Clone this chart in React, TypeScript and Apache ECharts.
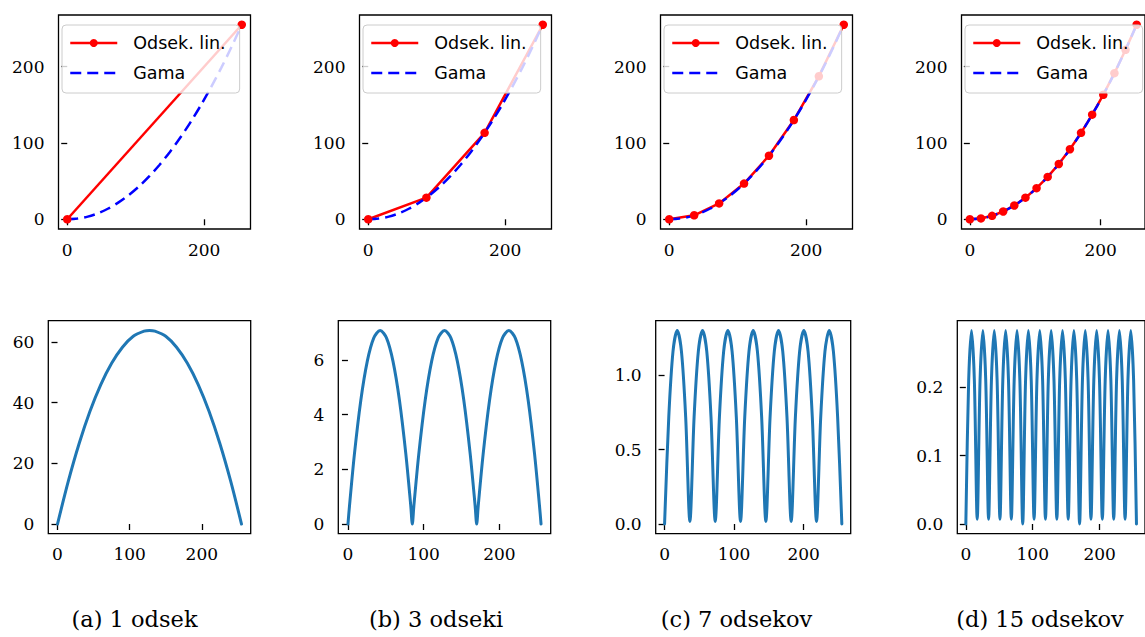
import React, { useEffect, useRef } from "react";
import * as echarts from "echarts";

// ---------- data ----------
const captions = ["(a) 1 odsek", "(b) 3 odseki", "(c) 7 odsekov", "(d) 15 odsekov"];
const lineName = "Odsek. lin.";
const gammaName = "Gama";

// knots of the piecewise-linear approximation (x, y)
const knotsA = [[0, 0], [255, 255]];
const knotsB = [[0, 0], [85, 28.3], [170, 113.3], [255, 255]];
const knotsC = [
  [0, 0], [36.4, 5.2], [72.9, 20.8], [109.3, 46.8], [145.7, 83.3], [182.1, 130.1], [218.6, 187.4], [255, 255],
];
const knotsD = [
  [0, 0], [17, 1.1], [34, 4.5], [51, 10.2], [68, 18.1], [85, 28.3], [102, 40.8], [119, 55.5],
  [136, 72.5], [153, 91.8], [170, 113.3], [187, 137.1], [204, 163.2], [221, 191.5], [238, 222.1], [255, 255],
];

// gamma curve
const gammaCurve = [
  [0, 0], [15, 0.9], [30, 3.5], [45, 7.9], [60, 14.1], [75, 22.1], [90, 31.8], [105, 43.2], [120, 56.5],
  [135, 71.5], [150, 88.2], [165, 106.8], [180, 127.1], [195, 149.1], [210, 172.9], [225, 198.5], [240, 225.9], [255, 255],
];

// error curves (bottom row)
const errA = [
  [0, 0], [15, 14.1], [30, 26.5], [45, 37.1], [60, 45.9], [75, 52.9], [90, 58.2], [105, 61.8], [120, 63.5],
  [127.5, 63.75], [135, 63.5], [150, 61.8], [165, 58.2], [180, 52.9], [195, 45.9], [210, 37.1], [225, 26.5], [240, 14.1], [255, 0],
];
const errB = [
  [0, 0], [2, 0.65], [8.5, 2.55], [17, 4.53], [25.5, 5.95], [34, 6.8], [42.5, 7.08], [51, 6.8], [59.5, 5.95], [68, 4.53], [76.5, 2.55], [83, 0.65], [85, 0],
  [87, 0.65], [93.5, 2.55], [102, 4.53], [110.5, 5.95], [119, 6.8], [127.5, 7.08], [136, 6.8], [144.5, 5.95], [153, 4.53], [161.5, 2.55], [168, 0.65], [170, 0],
  [172, 0.65], [178.5, 2.55], [187, 4.53], [195.5, 5.95], [204, 6.8], [212.5, 7.08], [221, 6.8], [229.5, 5.95], [238, 4.53], [246.5, 2.55], [253, 0.65], [255, 0],
];
const errC = [
  [0, 0], [6.07, 0.72], [12.14, 1.16], [18.21, 1.3], [24.29, 1.16], [30.36, 0.72], [36.43, 0.017],
  [42.5, 0.72], [48.57, 1.16], [54.64, 1.3], [60.71, 1.16], [66.79, 0.72], [72.86, 0.017],
  [78.93, 0.72], [85, 1.16], [91.07, 1.3], [97.14, 1.16], [103.21, 0.72], [109.29, 0.017],
  [115.36, 0.72], [121.43, 1.16], [127.5, 1.3], [133.57, 1.16], [139.64, 0.72], [145.71, 0.017],
  [151.79, 0.72], [157.86, 1.16], [163.93, 1.3], [170, 1.16], [176.07, 0.72], [182.14, 0.017],
  [188.21, 0.72], [194.29, 1.16], [200.36, 1.3], [206.43, 1.16], [212.5, 0.72], [218.57, 0.017],
  [224.64, 0.72], [230.71, 1.16], [236.79, 1.3], [242.86, 1.16], [248.93, 0.72], [255, 0],
];
const errD = [
  [0, 0], [4.25, 0.21], [8.5, 0.283], [12.75, 0.21], [17, 0.007],
  [21.25, 0.21], [25.5, 0.283], [29.75, 0.21], [34, 0.007],
  [38.25, 0.21], [42.5, 0.283], [46.75, 0.21], [51, 0.007],
  [55.25, 0.21], [59.5, 0.283], [63.75, 0.21], [68, 0.007],
  [72.25, 0.21], [76.5, 0.283], [80.75, 0.21], [85, 0],
  [89.25, 0.21], [93.5, 0.283], [97.75, 0.21], [102, 0.007],
  [106.25, 0.21], [110.5, 0.283], [114.75, 0.21], [119, 0.007],
  [123.25, 0.21], [127.5, 0.283], [131.75, 0.21], [136, 0.007],
  [140.25, 0.21], [144.5, 0.283], [148.75, 0.21], [153, 0.007],
  [157.25, 0.21], [161.5, 0.283], [165.75, 0.21], [170, 0],
  [174.25, 0.21], [178.5, 0.283], [182.75, 0.21], [187, 0.007],
  [191.25, 0.21], [195.5, 0.283], [199.75, 0.21], [204, 0.007],
  [208.25, 0.21], [212.5, 0.283], [216.75, 0.21], [221, 0.007],
  [225.25, 0.21], [229.5, 0.283], [233.75, 0.21], [238, 0.007],
  [242.25, 0.21], [246.5, 0.283], [250.75, 0.21], [255, 0],
];

// tick values
const topXTicks = [0, 200];
const topYTicks = [0, 100, 200];
const bottomXTicks = [0, 100, 200];
const errYTicksA = [0, 20, 40, 60];
const errYTicksB = [0, 2, 4, 6];
const errYTicksC = [0, 0.5, 1.0];
const errYTicksD = [0, 0.1, 0.2];

// axis ranges
const topRange = [-12.75, 267.75];
const xRange = [-12.75, 267.75];
const errRangeA = [-3.1875, 66.9375];
const errRangeB = [-0.354, 7.437];
const errRangeC = [-0.065, 1.366];
const errRangeD = [-0.0142, 0.2975];

// ---------- layout ----------
const topGrids = [58.5, 359.5, 660.5, 961.5].map((l) => ({ left: l, top: 15, width: 192, height: 214 }));
const bottomGrids = [
  { left: 48.3, top: 320.7, width: 202.4, height: 213 },
  { left: 338.3, top: 320.7, width: 212.4, height: 213 },
  { left: 655.7, top: 320.7, width: 195, height: 213 },
  { left: 957.3, top: 320.7, width: 196, height: 213 },
];
const captionX = [134.5, 436, 736.5, 1040];

const TICK_FONT = "DejaVu Serif";

function axisCommon(ticks: number[], range: number[], fmt?: (v: number) => string, yAxis = false) {
  return {
    type: "value",
    min: range[0],
    max: range[1],
    axisLine: { show: false },
    splitLine: { show: false },
    axisTick: { show: true, length: 6, lineStyle: { color: "#000", width: 1.3 }, customValues: ticks },
    axisLabel: {
      customValues: ticks,
      margin: yAxis ? 14 : 12,
      fontFamily: TICK_FONT,
      fontSize: 17,
      color: "#000",
      formatter: fmt ? (v: number) => fmt(v) : (v: number) => String(v),
    },
  };
}

export default function App() {
  const ref = useRef<HTMLDivElement>(null);
  useEffect(() => {
    if (!ref.current) return;
    const chart = echarts.init(ref.current, undefined, { renderer: "svg" });
    const knots = [knotsA, knotsB, knotsC, knotsD];
    const errs = [errA, errB, errC, errD];
    const errTicks = [errYTicksA, errYTicksB, errYTicksC, errYTicksD];
    const errRanges = [errRangeA, errRangeB, errRangeC, errRangeD];
    const fix1 = (v: number) => v.toFixed(1);
    const errFmt = [undefined, undefined, fix1, fix1];

    const grids = [...topGrids, ...bottomGrids].map((g) => ({
      ...g,
      show: true,
      borderColor: "#000",
      borderWidth: 1.3,
      backgroundColor: "transparent",
      containLabel: false,
    }));

    const xAxis: any[] = [];
    const yAxis: any[] = [];
    for (let i = 0; i < 4; i++) {
      xAxis.push({ ...axisCommon(topXTicks, topRange), gridIndex: i });
      yAxis.push({ ...axisCommon(topYTicks, topRange, undefined, true), gridIndex: i });
    }
    for (let i = 0; i < 4; i++) {
      xAxis.push({ ...axisCommon(bottomXTicks, xRange), gridIndex: 4 + i });
      yAxis.push({ ...axisCommon(errTicks[i], errRanges[i], errFmt[i], true), gridIndex: 4 + i });
    }

    const series: any[] = [];
    for (let i = 0; i < 4; i++) {
      series.push({
        type: "line",
        name: lineName,
        xAxisIndex: i,
        yAxisIndex: i,
        data: knots[i],
        symbol: "circle",
        symbolSize: 8.5,
        showSymbol: true,
        color: "#ff0000",
        itemStyle: { color: "#ff0000", borderWidth: 0 },
        lineStyle: { color: "#ff0000", width: 2.5 },
        emphasis: { disabled: true },
      });
      series.push({
        type: "line",
        name: gammaName,
        xAxisIndex: i,
        yAxisIndex: i,
        data: gammaCurve,
        symbol: "none",
        smooth: 0.3,
        color: "#0000ff",
        itemStyle: { color: "#0000ff" },
        lineStyle: { color: "#0000ff", width: 2.5, type: [11, 6] },
        emphasis: { disabled: true },
      });
    }
    for (let i = 0; i < 4; i++) {
      series.push({
        type: "line",
        name: "err" + i,
        xAxisIndex: 4 + i,
        yAxisIndex: 4 + i,
        data: errs[i],
        symbol: "none",
        smooth: 0.3,
        color: "#1f77b4",
        lineStyle: { color: "#1f77b4", width: 3, cap: "round", join: "round" },
        emphasis: { disabled: true },
      });
    }

    const legend = topGrids.map((g) => ({
      orient: "vertical",
      left: g.left + 3.5,
      top: 25,
      padding: [8, 14, 10, 7],
      itemWidth: 47,
      itemHeight: 10,
      itemGap: 10,
      backgroundColor: "rgba(255,255,255,0.8)",
      borderColor: "#cccccc",
      borderWidth: 1,
      borderRadius: 4,
      selectedMode: false,
      textStyle: {
        fontFamily: "DejaVu Sans",
        fontSize: 17.5,
        color: "#000",
        lineHeight: 20,
        padding: [0, 0, 0, 11],
      },
      lineStyle: { width: "inherit" },
      data: [{ name: lineName }, { name: gammaName, itemStyle: { opacity: 0 } }],
      z: 10,
    }));

    chart.setOption({
      animation: false,
      backgroundColor: "#ffffff",
      grid: grids,
      xAxis,
      yAxis,
      series,
      legend,
      graphic: {
        elements: captions.map((t, i) => ({
          type: "text",
          x: captionX[i],
          y: 618.5,
          style: {
            text: t,
            font: '22.5px "DejaVu Serif"',
            fill: "#000",
            align: "center",
            verticalAlign: "middle",
          },
        })),
      },
    });
    return () => chart.dispose();
  }, []);
  return <div ref={ref} style={{ position: "absolute", left: 0, top: 0, width: 1145, height: 637 }} />;
}
